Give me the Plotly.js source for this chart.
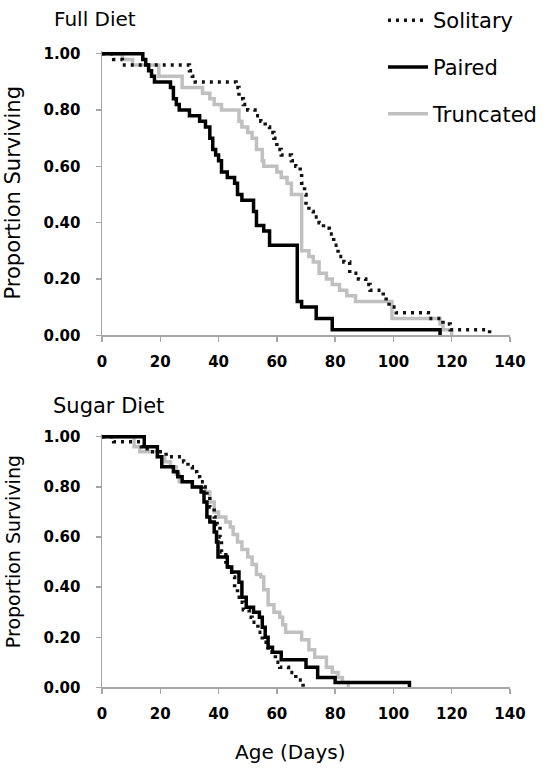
<!DOCTYPE html>
<html>
<head>
<meta charset="utf-8">
<script src="https://cdn.plot.ly/plotly-3.0.1.min.js"></script>
<style>html,body{margin:0;padding:0;background:#fff;}#chart{width:547px;height:769px;}</style>
</head>
<body>
<div id="chart"></div>
<script>
// ---- Data ----
var seriesNames = ["Solitary", "Paired", "Truncated"];
var xTicks = [0, 20, 40, 60, 80, 100, 120, 140];
var yTicks = [0, 0.2, 0.4, 0.6, 0.8, 1.0];

// Full diet
var fullSolitaryDays = [0, 4, 7, 30, 31, 32, 46, 47, 48.5, 50, 52.5, 54.5, 56, 57.5, 59, 60, 61.5, 65, 66.5, 68, 68.5, 69.5, 70, 71, 72.5, 74.5, 76, 78, 79.5, 81, 83, 85, 88, 90.5, 92, 96.5, 97.5, 98.5, 101, 112, 117, 119.5, 133];
var fullSolitarySurv = [1.00, 0.98, 0.96, 0.94, 0.92, 0.90, 0.88, 0.84, 0.82, 0.80, 0.78, 0.76, 0.74, 0.72, 0.70, 0.66, 0.64, 0.62, 0.60, 0.58, 0.54, 0.50, 0.46, 0.44, 0.42, 0.40, 0.38, 0.36, 0.32, 0.28, 0.26, 0.22, 0.20, 0.18, 0.16, 0.14, 0.12, 0.10, 0.08, 0.06, 0.04, 0.02, 0.00];

var fullPairedDays = [0, 14, 15, 16, 17, 18, 23.5, 24.5, 25.5, 26.5, 30, 33.5, 35.5, 37, 38, 39, 40, 41, 43, 45.5, 46.5, 48, 52, 53, 55.5, 57.5, 67, 68.5, 73.5, 79, 116];
var fullPairedSurv = [1.00, 0.98, 0.96, 0.94, 0.92, 0.90, 0.88, 0.84, 0.82, 0.80, 0.78, 0.76, 0.74, 0.70, 0.66, 0.64, 0.62, 0.58, 0.56, 0.54, 0.50, 0.48, 0.44, 0.39, 0.37, 0.32, 0.12, 0.10, 0.06, 0.02, 0.00];

var fullTruncDays = [0, 7, 10.5, 19.5, 27.5, 34.5, 37, 38.5, 41, 47, 48, 50, 51.5, 53, 55, 55.5, 60, 61.5, 63.5, 65, 68.5, 71, 72.5, 74.5, 77, 79, 81.5, 84, 87, 99.5, 116, 117, 120];
var fullTruncSurv = [1.00, 0.98, 0.96, 0.92, 0.88, 0.86, 0.84, 0.82, 0.80, 0.76, 0.74, 0.72, 0.70, 0.66, 0.62, 0.60, 0.58, 0.56, 0.54, 0.50, 0.30, 0.28, 0.26, 0.22, 0.20, 0.18, 0.16, 0.14, 0.12, 0.06, 0.04, 0.02, 0.00];

// Sugar diet
var sugarSolitaryDays = [0, 4, 13.5, 15.5, 22, 28, 29.5, 31, 32.5, 33.5, 35, 36, 37, 38.5, 39.5, 40.5, 41, 42.5, 43.5, 44.5, 45.5, 46.5, 47.5, 48.5, 50.5, 51.5, 53.5, 55, 57, 59.5, 61, 64, 66.5, 69];
var sugarSolitarySurv = [1.00, 0.98, 0.96, 0.94, 0.92, 0.90, 0.88, 0.86, 0.84, 0.82, 0.80, 0.76, 0.72, 0.68, 0.65, 0.60, 0.54, 0.50, 0.48, 0.44, 0.40, 0.36, 0.34, 0.31, 0.28, 0.26, 0.22, 0.18, 0.14, 0.10, 0.08, 0.06, 0.03, 0.00];

var sugarPairedDays = [0, 14.5, 19, 20.5, 24.5, 26, 27.5, 31, 34, 35, 36, 37, 38.5, 39.3, 39.8, 43, 44.5, 47, 48, 49.5, 52, 54, 55, 56, 57, 58.5, 61.5, 70, 74, 80, 105.5];
var sugarPairedSurv = [1.00, 0.96, 0.92, 0.88, 0.86, 0.84, 0.82, 0.80, 0.78, 0.74, 0.68, 0.66, 0.62, 0.58, 0.52, 0.48, 0.46, 0.42, 0.36, 0.32, 0.30, 0.28, 0.24, 0.20, 0.16, 0.14, 0.11, 0.08, 0.04, 0.02, 0.00];

var sugarTruncDays = [0, 11, 13, 19, 21.5, 23.5, 25.5, 26.5, 31, 35.5, 37, 38.5, 40, 42.5, 44, 45, 46.5, 48, 50, 51.5, 53, 54.5, 55.5, 57, 59, 61, 62, 63, 68.5, 71, 73, 77, 79, 81, 82.5, 84.5];
var sugarTruncSurv = [1.00, 0.96, 0.94, 0.92, 0.90, 0.88, 0.85, 0.82, 0.80, 0.78, 0.74, 0.70, 0.68, 0.66, 0.64, 0.61, 0.58, 0.55, 0.52, 0.49, 0.45, 0.44, 0.39, 0.33, 0.30, 0.28, 0.25, 0.22, 0.19, 0.15, 0.12, 0.08, 0.06, 0.04, 0.02, 0.00];

// ---- Styles ----
var styles = {
  Solitary: {color: "#111111", width: 3.5, dash: "3px,5px"},
  Paired: {color: "#000000", width: 3.5, dash: "solid"},
  Truncated: {color: "#c0c0c0", width: 3.5, dash: "solid"}
};

function trace(name, x, y, xa, ya, showlegend) {
  var s = styles[name];
  return {
    type: "scatter", mode: "lines", name: name,
    x: x, y: y, xaxis: xa, yaxis: ya,
    line: {shape: "hv", color: s.color, width: s.width, dash: s.dash},
    showlegend: showlegend, legendgroup: name, hoverinfo: "skip"
  };
}

var data = [
  trace("Truncated", fullTruncDays, fullTruncSurv, "x", "y", false),
  trace("Solitary", fullSolitaryDays, fullSolitarySurv, "x", "y", true),
  trace("Paired", fullPairedDays, fullPairedSurv, "x", "y", true),
  trace("Truncated", sugarTruncDays, sugarTruncSurv, "x2", "y2", false),
  trace("Solitary", sugarSolitaryDays, sugarSolitarySurv, "x2", "y2", false),
  trace("Paired", sugarPairedDays, sugarPairedSurv, "x2", "y2", false),
  // legend entry for Truncated (kept in order Solitary, Paired, Truncated)
  trace("Truncated", [null], [null], "x", "y", true)
];

var axisColor = "#a6a6a6";
var tickFont = {family: "DejaVu Sans", size: 15, color: "#000", weight: "bold"};
function xAxis(anchor) {
  return {
    anchor: anchor, domain: [0, 1], range: [0, 140],
    tickmode: "array", tickvals: xTicks, ticktext: xTicks.map(String),
    showline: true, linecolor: axisColor, linewidth: 1.5,
    ticks: "outside", ticklen: 5, tickwidth: 1.5, tickcolor: axisColor,
    showgrid: false, zeroline: false, tickfont: tickFont, ticklabelstandoff: 7, fixedrange: true
  };
}
function yAxis(anchor, domain) {
  return {
    anchor: anchor, domain: domain, range: [0, 1.01],
    tickmode: "array", tickvals: yTicks, ticktext: yTicks.map(function (v) { return v.toFixed(2); }),
    showline: true, linecolor: axisColor, linewidth: 1.5,
    ticks: "outside", ticklen: 5, tickwidth: 1.5, tickcolor: axisColor,
    showgrid: false, zeroline: false, tickfont: tickFont, ticklabelstandoff: 12, fixedrange: true
  };
}

var H = 769, L = 102, W = 408;
function px(p) { return (p - L) / W; }
function py(p) { return 1 - p / H; }

var textFont = {family: "DejaVu Sans", size: 20, color: "#000"};

var layout = {
  width: 547, height: 769,
  margin: {l: 102, r: 37, t: 0, b: 0},
  paper_bgcolor: "#fff", plot_bgcolor: "#fff",
  showlegend: true,
  legend: {
    x: px(383), y: py(-4), xanchor: "left", yanchor: "top",
    font: {family: "DejaVu Sans", size: 21, color: "#000"},
    itemwidth: 40,
    traceorder: "grouped", tracegroupgap: 16.5, bgcolor: "rgba(0,0,0,0)"
  },
  xaxis: xAxis("y"),
  yaxis: yAxis("x", [0.56697, 0.93866]),
  xaxis2: xAxis("y2"),
  yaxis2: yAxis("x2", [0.10663, 0.43761]),
  annotations: [
    {text: "Full Diet", xref: "paper", yref: "paper", x: px(52), y: py(15), xanchor: "left", yanchor: "middle", showarrow: false, font: {family: "DejaVu Sans", size: 20, color: "#000"}},
    {text: "Sugar Diet", xref: "paper", yref: "paper", x: px(51), y: py(404), xanchor: "left", yanchor: "middle", showarrow: false, font: {family: "DejaVu Sans", size: 21, color: "#000"}},
    {text: "Age (Days)", xref: "paper", yref: "paper", x: px(290), y: py(752), xanchor: "center", yanchor: "middle", showarrow: false, font: textFont},
    {text: "Proportion Surviving", xref: "paper", yref: "paper", x: px(13), y: py(190.5), xanchor: "center", yanchor: "middle", textangle: -90, showarrow: false, font: {family: "DejaVu Sans", size: 21, color: "#000"}},
    {text: "Proportion Surviving", xref: "paper", yref: "paper", x: px(13), y: py(551), xanchor: "center", yanchor: "middle", textangle: -90, showarrow: false, font: {family: "DejaVu Sans", size: 19, color: "#000"}}
  ]
};

Plotly.newPlot("chart", data, layout, {displayModeBar: false, staticPlot: true});
</script>
</body>
</html>
